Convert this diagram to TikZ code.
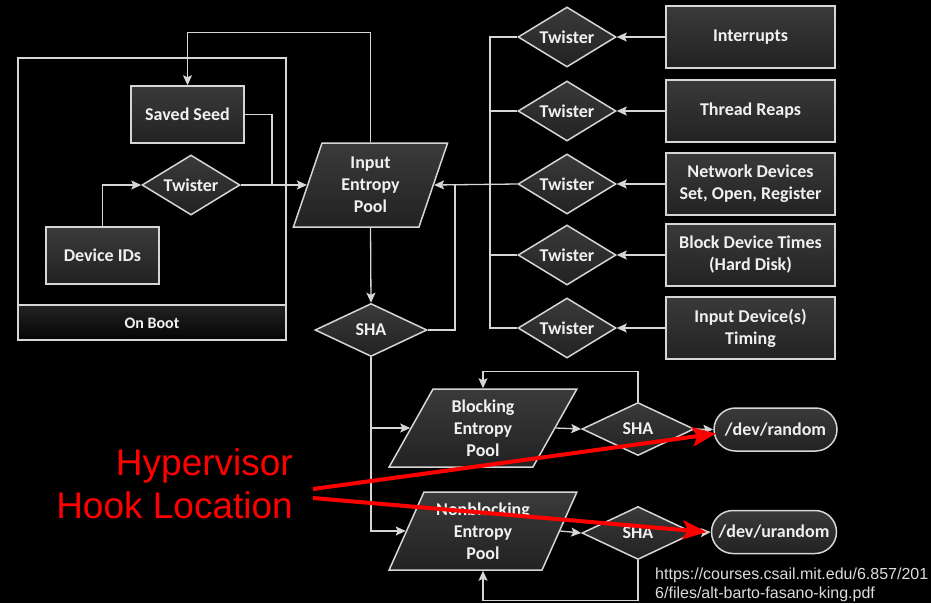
\documentclass[tikz,border=0pt]{standalone}
\usepackage{fontspec}
\usetikzlibrary{shapes.geometric,shapes.misc,arrows.meta,calc}
\newfontfamily\diagfont{Carlito}
\newfontfamily\notefont{Liberation Sans}
\definecolor{lineC}{HTML}{D6D6D6}
\definecolor{txtC}{HTML}{F0F0F0}
\definecolor{boxTop}{HTML}{3A3A3A}
\definecolor{boxBot}{HTML}{222222}
\definecolor{bandTop}{HTML}{222222}
\definecolor{bandBot}{HTML}{050505}
\definecolor{hookred}{HTML}{FF0000}
\definecolor{noteC}{HTML}{DCDCDC}

\begin{document}
\begin{tikzpicture}[x=1pt,y=-1pt,
  ln/.style={draw=lineC, line width=1.3pt},
  arr/.style={ln, -{Stealth[length=10pt,width=9pt,inset=2pt]}},
  shapebase/.style={draw=lineC, line width=1.5pt, top color=boxTop, bottom color=boxBot,
    text=txtC, font=\diagfont\bfseries\fontsize{18}{22}\selectfont, align=center, inner sep=0pt},
  stepbox/.style={shapebase, rectangle, minimum width=113pt, minimum height=57pt},
  srcbox/.style={shapebase, rectangle, minimum width=169pt, minimum height=62pt},
  mixer/.style={shapebase, diamond, aspect=1.6, minimum width=98pt, minimum height=60pt},
  hasher/.style={shapebase, diamond, aspect=1.6, minimum width=112pt, minimum height=53pt},
  poolshape/.style={shapebase, trapezium, trapezium stretches=true},
  devnode/.style={shapebase, rounded rectangle, minimum height=43pt},
  hookarr/.style={draw=hookred, line width=4pt, -{Stealth[length=24pt,width=19pt,inset=5pt]}},
  hooktext/.style={text=hookred, font=\notefont\fontsize{37}{43}\selectfont, inner sep=0pt}
]
% canvas
\fill[black] (0,0) rectangle (931,603);
\useasboundingbox (0,0) rectangle (931,603);

% boot-time frame with its caption band
\draw[ln, line width=1.5pt] (18,58) rectangle (286,340);
\shade[top color=bandTop, bottom color=bandBot] (18,305) rectangle (286,340);
\draw[ln, line width=1.5pt] (18,305) rectangle (286,340);
\node[text=txtC, font=\diagfont\bfseries\fontsize{16}{18}\selectfont] (boot) at (152,323) {On Boot};

% boot-time sources
\node[stepbox] (seed) at (187.5,114.5) {Saved Seed};
\node[mixer]   (tw0)  at (191,185) {Twister};
\node[stepbox] (dev)  at (102.5,255.5) {Device IDs};

% input pool and its hash
\node[poolshape, minimum width=155pt, minimum height=84pt,
      trapezium left angle=72.8, trapezium right angle=107.2] (pool) at (370.5,185) {Input\\Entropy\\Pool};
\node[hasher] (sha0) at (371,330) {SHA};

% runtime sources
\node[srcbox] (b1) at (750.5,37)  {Interrupts};
\node[srcbox] (b2) at (750.5,111) {Thread Reaps};
\node[srcbox] (b3) at (750.5,184) {Network Devices\\Set, Open, Register};
\node[srcbox] (b4) at (750.5,255) {Block Device Times\\(Hard Disk)};
\node[srcbox] (b5) at (750.5,328) {Input Device(s)\\Timing};
\node[mixer] (tw1) at (567,37)  {Twister};
\node[mixer] (tw2) at (567,111) {Twister};
\node[mixer] (tw3) at (567,184) {Twister};
\node[mixer] (tw4) at (567,255) {Twister};
\node[mixer] (tw5) at (567,328) {Twister};

% output pools
\node[poolshape, minimum width=188pt, minimum height=78pt,
      trapezium left angle=64, trapezium right angle=116] (bpool) at (483,428) {Blocking\\Entropy\\Pool};
\node[poolshape, minimum width=188pt, minimum height=78pt,
      trapezium left angle=64, trapezium right angle=116] (npool) at (483,531) {Nonblocking\\Entropy\\Pool};
\node[hasher] (sha1) at (638,429) {SHA};
\node[hasher] (sha2) at (638,533) {SHA};
\node[devnode, minimum width=123pt] (rnd)  at (775.5,429.5) {/dev/random};
\node[devnode, minimum width=125pt] (urnd) at (774,532) {/dev/urandom};

% helper points
\coordinate (busx) at (490,0);
\coordinate (seedjoin) at (272,185);
\coordinate (shajoin) at (455,184);

% boot-time wiring
\draw[arr] (dev.north) |- (tw0.west);
\draw[arr] (tw0.east) -- (pool.left side);
\draw[ln] (seed.east) -| (seedjoin);
\draw[arr] (pool.north) -- ++(0,-110) -| (seed.north);

% runtime wiring
\foreach \i in {1,...,5} \draw[arr] (b\i.west) -- (tw\i.east);
\draw[ln] (tw1.west) -| (tw5.west -| busx) -- (tw5.west);
\draw[ln] (tw2.west) -- (tw2.west -| busx);
\draw[ln] (tw4.west) -- (tw4.west -| busx);
\draw[arr] (tw3.west) -- (pool.right side);

% hashing of the input pool
\draw[arr] (pool.south) -- (sha0.north);
\draw[ln] (sha0.east) -| (shajoin);
\draw[arr] (sha0.south) |- (npool.left side);
\draw[arr] (sha0.south |- bpool.left side) -- (bpool.left side);

% blocking branch
\draw[arr] (bpool.right side) -- (sha1.west);
\draw[arr] (sha1.north) -- ++(0,-30) -| (bpool.north);
\draw[arr] (sha1.east) -- (rnd.west);

% nonblocking branch
\draw[arr] (npool.right side) -- (sha2.west);
\draw[arr] (sha2.south) -- ++(0,40) -| (npool.south);
\draw[arr] (sha2.east) -- (urnd.west);

% hook annotation
\node[hooktext, anchor=base east] (hyp1) at (293,475) {Hypervisor};
\node[hooktext, anchor=base east] (hyp2) at (293,518) {Hook Location};
\coordinate (hookA) at (313,489);
\coordinate (hookB) at (313,498);
\draw[hookarr] (hookA) -- ($(rnd.west)+(3,4)$);
\draw[hookarr] (hookB) -- ($(urnd.west)+(-4,0)$);

% source reference
\node[anchor=base west, text=noteC, font=\notefont\fontsize{16}{18.5}\selectfont, align=left, inner sep=0pt]
  (src) at (655,598) {https://courses.csail.mit.edu/6.857/201\\6/files/alt-barto-fasano-king.pdf};
\end{tikzpicture}
\end{document}
